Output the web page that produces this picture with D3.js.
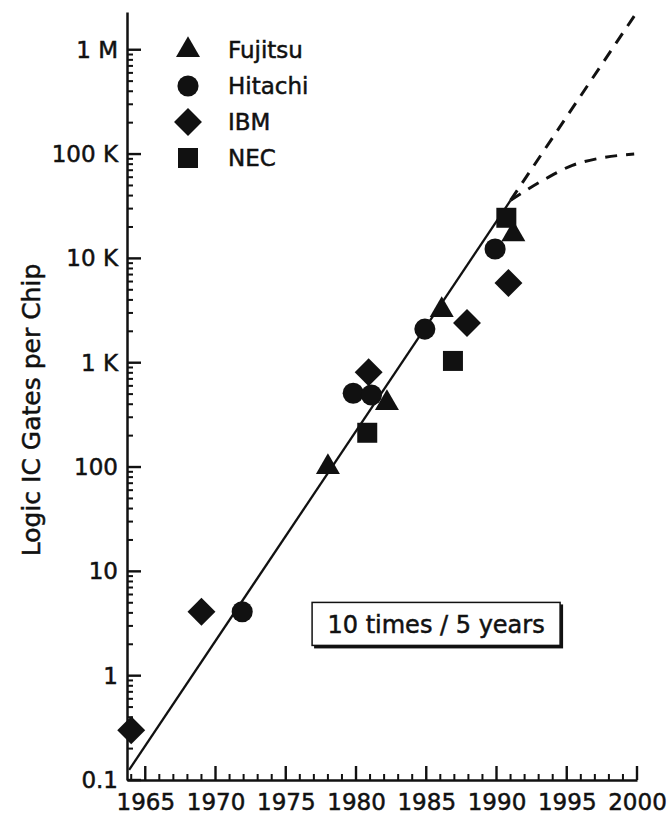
<!DOCTYPE html>
<html>
<head>
<meta charset="utf-8">
<script src="https://cdn.jsdelivr.net/npm/d3@7"></script>
<style>
  body { margin: 0; background: #fff; }
  text { font-family: "DejaVu Sans", sans-serif; fill: #111; stroke: #111; stroke-width: 0.5px; }
</style>
</head>
<body>
<div id="chart"></div>
<script>
// ---- data ----
const fujitsuYears = [1978, 1982.2, 1986.1, 1991.2];
const fujitsuGates = [100, 410, 3200, 17000];

const hitachiYears = [1971.9, 1979.8, 1981.1, 1984.9, 1989.9];
const hitachiGates = [4.1, 510, 490, 2100, 12300];

const ibmYears = [1964, 1969, 1980.9, 1987.9, 1990.85];
const ibmGates = [0.3, 4.1, 810, 2400, 5800];

const necYears = [1980.8, 1986.9, 1990.7];
const necGates = [213, 1040, 24500];

// fitted trend (10 times / 5 years) and the two projections
const trendYears = [1963.85, 1991];
const trendGates = [0.125, 36000];
const projHighYears = [1991, 1999.8];
const projHighGates = [36000, 2100000];
const projLowYears = [1991, 1993.6, 1995.4, 1997.3, 1999.8];
const projLowGates = [36000, 59000, 78000, 91000, 100000];

const seriesNames = ["Fujitsu", "Hitachi", "IBM", "NEC"];
const yTickValues = [0.1, 1, 10, 100, 1e3, 1e4, 1e5, 1e6];
const yTickLabels = ["0.1", "1", "10", "100", "1 K", "10 K", "100 K", "1 M"];
const xTickValues = [1965, 1970, 1975, 1980, 1985, 1990, 1995, 2000];

// ---- layout ----
const width = 669;
const height = 820;

const svg = d3.select("#chart")
    .append("svg")
    .attr("width", width)
    .attr("height", height);

const x = d3.scaleLinear()
    .domain([1963.7, 2000])
    .range([127, 637]);

const y = d3.scaleLog()
    .domain([0.1, 2300000])
    .range([780, 12]);

const x0 = x.range()[0];
const y0 = y.range()[0];

// symbol for each manufacturer
const symbolFor = {
    Fujitsu: d3.symbol().type(d3.symbolTriangle).size(250),
    Hitachi: d3.symbol().type(d3.symbolCircle).size(350),
    IBM: d3.symbol().type(d3.symbolSquare).size(390),   // rotated 45deg below
    NEC: d3.symbol().type(d3.symbolSquare).size(400)
};
const rotateFor = { Fujitsu: 0, Hitachi: 0, IBM: 45, NEC: 0 };

// ---- axes (domain line + labels) ----
svg.append("g")
    .attr("transform", `translate(0,${y0})`)
    .call(d3.axisBottom(x)
        .tickValues(xTickValues)
        .tickSize(0)
        .tickPadding(14)
        .tickFormat(d3.format("d")))
    .call(g => g.select(".domain").attr("stroke", "#111").attr("stroke-width", 2.5))
    .call(g => g.selectAll("text").style("font-size", "23px").attr("fill", "#111"));

svg.append("g")
    .attr("transform", `translate(${x0},0)`)
    .call(d3.axisLeft(y)
        .tickValues(yTickValues)
        .tickSize(0)
        .tickPadding(9)
        .tickFormat((d, i) => yTickLabels[i]))
    .call(g => g.select(".domain").attr("stroke", "#111").attr("stroke-width", 2.5))
    .call(g => g.selectAll("text").style("font-size", "23px").attr("fill", "#111"));

// ---- ticks (inward, filled rects placed by the scales) ----
const xMinor = d3.range(1964, 2001).filter(v => v % 5 !== 0);
const yMinor = [];
for (let e = -1; e <= 5; e++) {
    for (let m = 2; m <= 9; m++) yMinor.push(m * Math.pow(10, e));
}

const tickColor = "#111";

function xTicks(values, len, w) {
    svg.append("g")
        .selectAll("rect")
        .data(values)
        .enter()
        .append("rect")
        .attr("x", d => x(d) - w / 2)
        .attr("y", y0 - len)
        .attr("width", w)
        .attr("height", len)
        .attr("fill", tickColor);
}

function yTicks(values, len, w) {
    svg.append("g")
        .selectAll("rect")
        .data(values)
        .enter()
        .append("rect")
        .attr("x", x0)
        .attr("y", d => y(d) - w / 2)
        .attr("width", len)
        .attr("height", w)
        .attr("fill", tickColor);
}

xTicks(xMinor, 6, 2);
xTicks(xTickValues, 14, 2.4);
yTicks(yMinor, 6, 2);
yTicks(yTickValues, 14, 2.4);

// y axis title
svg.append("text")
    .attr("transform", `translate(40,410) rotate(-90)`)
    .attr("text-anchor", "middle")
    .style("font-size", "25px")
    .text("Logic IC Gates per Chip");

// ---- trend line and projections ----
const line = d3.line()
    .x(d => x(d[0]))
    .y(d => y(d[1]));

svg.append("path")
    .datum(d3.zip(trendYears, trendGates))
    .attr("fill", "none")
    .attr("stroke", "#111")
    .attr("stroke-width", 2.3)
    .attr("d", line);

svg.append("path")
    .datum(d3.zip(projHighYears, projHighGates))
    .attr("fill", "none")
    .attr("stroke", "#111")
    .attr("stroke-width", 3)
    .attr("stroke-dasharray", "12,9")
    .attr("d", line);

svg.append("path")
    .datum(d3.zip(projLowYears, projLowGates))
    .attr("fill", "none")
    .attr("stroke", "#111")
    .attr("stroke-width", 3)
    .attr("stroke-dasharray", "12,9")
    .attr("d", line.curve(d3.curveMonotoneX));

// ---- data points ----
const points = [
    ...d3.zip(fujitsuYears, fujitsuGates).map(d => ({ name: "Fujitsu", year: d[0], gates: d[1] })),
    ...d3.zip(hitachiYears, hitachiGates).map(d => ({ name: "Hitachi", year: d[0], gates: d[1] })),
    ...d3.zip(ibmYears, ibmGates).map(d => ({ name: "IBM", year: d[0], gates: d[1] })),
    ...d3.zip(necYears, necGates).map(d => ({ name: "NEC", year: d[0], gates: d[1] }))
];

svg.append("g")
    .selectAll("path")
    .data(points)
    .enter()
    .append("path")
    .attr("d", d => symbolFor[d.name]())
    .attr("transform", d => `translate(${x(d.year)},${y(d.gates)}) rotate(${rotateFor[d.name]})`)
    .attr("fill", "#111");

// ---- legend ----
const legend = svg.append("g")
    .selectAll("g")
    .data(seriesNames)
    .enter()
    .append("g")
    .attr("transform", (d, i) => `translate(188,${50 + i * 36})`);

legend.append("path")
    .attr("d", d => symbolFor[d]())
    .attr("transform", d => `rotate(${rotateFor[d]})`)
    .attr("fill", "#111");

legend.append("text")
    .attr("x", 40)
    .attr("dy", "0.36em")
    .style("font-size", "23px")
    .text(d => d);

// ---- annotation box ----
const note = svg.append("g")
    .attr("transform", `translate(${x(1985.7)},${y(3.1)})`);

note.append("rect")
    .attr("x", -122).attr("y", -20)
    .attr("width", 249).attr("height", 44)
    .attr("fill", "#111");
note.append("rect")
    .attr("x", -124).attr("y", -22)
    .attr("width", 248).attr("height", 43)
    .attr("fill", "#fff")
    .attr("stroke", "#111")
    .attr("stroke-width", 1.5);
note.append("text")
    .attr("text-anchor", "middle")
    .attr("dy", "0.36em")
    .style("font-size", "24px")
    .text("10 times / 5 years");
</script>
</body>
</html>
